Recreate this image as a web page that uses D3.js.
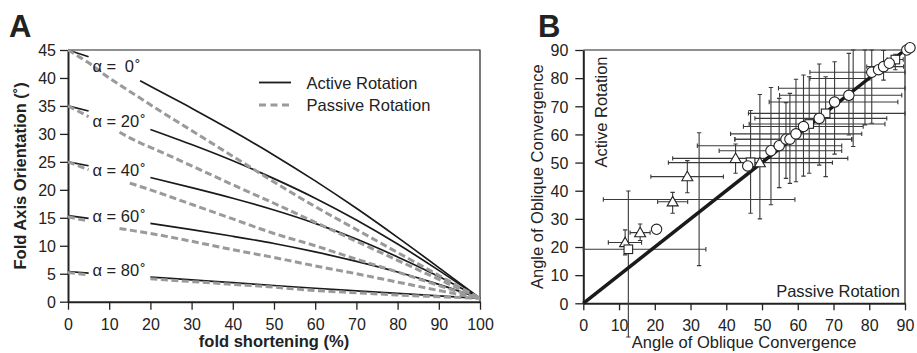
<!DOCTYPE html>
<html>
<head>
<meta charset="utf-8">
<script src="https://cdn.jsdelivr.net/npm/d3@7"></script>
<style>
    body { margin: 0; background: #fff; }
    svg text { font-family: "Liberation Sans", Arial, sans-serif; fill: #222; }
</style>
</head>
<body>
<div id="chart"></div>
<script>

// ---------- panel A data (fold axis orientation vs. fold shortening) ----------
// null = line hidden behind the alpha label
let shortening = [0, 5, 10, 12.5, 15, 17.5, 20, 30, 40, 50, 60, 70, 80, 90, 100];
let alphas = [0, 20, 40, 60, 80];

let active0  = [45.0, 43.8, null, null, null, 39.5, 38.5, 34.6, 30.5, 26.2, 21.6, 16.7, 11.5, 6.1, 0.6];
let active20 = [35.0, 34.1, null, null, null, null, 30.8, 28.1, 25.2, 22.0, 18.5, 14.6, 10.3, 5.6, 0.6];
let active40 = [25.0, 24.3, null, null, null, null, 22.2, 20.4, 18.5, 16.4, 14.0, 11.2, 8.0, 4.5, 0.6];
let active60 = [15.4, 14.9, null, null, null, null, 14.0, 12.9, 11.7, 10.4, 8.9, 7.2, 5.3, 3.1, 0.6];
let active80 = [5.4, 5.1, null, null, null, null, 4.4, 3.9, 3.4, 2.9, 2.4, 1.95, 1.5, 1.05, 0.6];

let passive0  = [45.0, 42.7, 40.0, 38.8, 37.6, 36.4, 35.2, 30.6, 26.0, 21.4, 17.0, 12.9, 8.8, 4.7, 0.6];
let passive20 = [35.0, 33.1, null, 30.3, 29.3, 28.4, 27.6, 24.3, 20.9, 17.6, 14.2, 10.8, 7.4, 4.0, 0.6];
let passive40 = [25.0, 23.6, null, null, 21.2, 20.6, 20.0, 17.4, 14.8, 12.2, 10.0, 7.6, 5.3, 2.9, 0.6];
let passive60 = [15.2, 14.4, null, 13.1, 12.8, 12.5, 12.2, 10.8, 9.3, 7.9, 6.4, 5.0, 3.5, 2.0, 0.6];
let passive80 = [5.2, 4.8, null, null, null, null, 4.1, 3.6, 3.1, 2.6, 2.0, 1.6, 1.2, 0.9, 0.6];

let activeSeries = [active0, active20, active40, active60, active80];
let passiveSeries = [passive0, passive20, passive40, passive60, passive80];

// ---------- panel B data: [x, y, xLow, xHigh, yLow, yHigh] ----------
let triangles = [
    [11.7, 21.6, 7.0, 16.3, 17.2, 26.1],
    [15.9, 25.1, 13.1, 18.7, 22.3, 28.2],
    [25.0, 36.1, 20.8, 29.2, 32.0, 39.4],
    [29.1, 45.0, 18.9, 39.2, 39.3, 50.7],
    [42.6, 51.5, 25.0, 74.0, 46.2, 56.6],
    [49.4, 50.0, 23.8, 69.7, 30.0, 74.2]
];
let squares = [
    [12.6, 19.2, 0.0, 34.3, -12.0, 39.9],
    [46.8, 50.1, null, null, 32.0, 68.5],
    [63.2, 63.7, 46.4, 84.4, 46.2, 80.5],
    [67.8, 67.5, 46.2, 90.0, 45.0, 80.5],
    [87.3, 86.6, 85.0, 89.5, 83.0, 88.5]
];
let circles = [
    [20.5, 26.3, null, null, null, null],
    [46.0, 48.8, null, null, null, null],
    [52.5, 54.2, 38.0, 72.3, 35.0, 76.7],
    [54.8, 56.0, 31.9, 72.3, 41.1, 72.8],
    [56.7, 58.3, 42.4, 75.1, 44.4, 71.3],
    [57.8, 58.3, 42.4, 75.1, 42.6, 74.6],
    [59.5, 60.2, 41.2, 77.9, 43.2, 79.6],
    [61.6, 62.8, 44.8, 78.3, 45.2, 81.1],
    [66.0, 65.7, 48.0, 84.9, 49.1, 85.0],
    [70.3, 71.5, 52.0, 88.0, 53.0, 85.8],
    [74.3, 73.9, 54.9, 89.1, 59.8, 88.8],
    [80.7, 82.1, 63.4, 90.0, 64.0, 90.0],
    [82.6, 83.0, null, null, null, null],
    [84.0, 84.1, 79.3, 89.6, 79.3, 89.8],
    [85.6, 85.3, null, null, null, null],
    [90.5, 90.0, null, null, null, null],
    [91.4, 90.8, null, null, null, null]
];
// error bars whose symbol is not visible
let bareBars = [
    [32.4, 36.9, 5.6, 59.2, 13.4, 60.6],
    [75.5, 76.4, 54.6, 90.0, 55.7, 90.0],
    [78.8, 79.9, 63.4, 80.2, 63.4, 90.0]
];

// ---------- drawing ----------
let svg = d3.select("#chart").append("svg")
    .attr("width", 917)
    .attr("height", 353);

function styleAxis(g) {
    g.attr("font-family", null).attr("font-size", null);
    g.select(".domain").attr("stroke", "#222").attr("stroke-width", 2);
    g.selectAll(".tick line").attr("stroke", "#222").attr("stroke-width", 1.3);
    g.selectAll(".tick text").style("font-size", "16px").attr("fill", "#222");
}

/* ----- Panel A ----- */
let xA = d3.scaleLinear().domain([0, 100]).range([68, 480]);
let yA = d3.scaleLinear().domain([0, 45]).range([301.7, 50]);

svg.append("text").attr("x", 9).attr("y", 37)
    .style("font-size", "31px").style("font-weight", "bold").text("A");

// frame (top / right)
svg.append("path")
    .attr("d", "M" + xA(0) + "," + yA(45) + "H" + xA(100) + "V" + yA(0))
    .attr("fill", "none").attr("stroke", "#222").attr("stroke-width", 1.2);

svg.append("g").attr("transform", "translate(0," + yA(0) + ")")
    .call(d3.axisBottom(xA).tickValues(d3.range(0, 101, 10)).tickSize(8).tickSizeOuter(0).tickPadding(9))
    .call(styleAxis);

svg.append("g").attr("transform", "translate(" + xA(0) + ",0)")
    .call(d3.axisLeft(yA).tickValues(d3.range(0, 46, 5)).tickSize(8).tickSizeOuter(0).tickPadding(4))
    .call(styleAxis)
    .selectAll(".tick text").attr("dy", "0.36em");

let lineA = d3.line()
    .defined(d => d[1] !== null)
    .x(d => xA(d[0]))
    .y(d => yA(d[1]))
    .curve(d3.curveMonotoneX);

activeSeries.forEach(function (vals) {
    svg.append("path")
        .datum(shortening.map((s, i) => [s, vals[i]]))
        .attr("d", lineA)
        .attr("fill", "none")
        .attr("stroke", "#1a1a1a")
        .attr("stroke-width", 1.7);
});

passiveSeries.forEach(function (vals) {
    svg.append("path")
        .datum(shortening.map((s, i) => [s, vals[i]]))
        .attr("d", lineA)
        .attr("fill", "none")
        .attr("stroke", "#9a9a9a")
        .attr("stroke-width", 3)
        .attr("stroke-dasharray", "7,3.5");
});

// alpha labels (vertical placement in orientation units)
let labelOrientation = [42.0, 32.2, 23.4, 15.2, 5.5];
alphas.forEach(function (a, i) {
    let t = svg.append("text")
        .attr("x", 92.5)
        .attr("y", yA(labelOrientation[i]) + 5.5)
        .style("font-size", "16.5px");
    t.append("tspan").text("α = ");
    t.append("tspan").attr("dx", a < 10 ? 4 : 0).text(a);
    t.append("tspan").attr("dx", 1).text("˚");
});

// legend
svg.append("line").attr("x1", 259).attr("x2", 291).attr("y1", 82.5).attr("y2", 82.5)
    .attr("stroke", "#1a1a1a").attr("stroke-width", 1.8);
svg.append("line").attr("x1", 259).attr("x2", 291).attr("y1", 105).attr("y2", 105)
    .attr("stroke", "#9a9a9a").attr("stroke-width", 3).attr("stroke-dasharray", "7,4.5");
svg.append("text").attr("x", 306.5).attr("y", 88.5).style("font-size", "16.5px").text("Active Rotation");
svg.append("text").attr("x", 306.5).attr("y", 110.5).style("font-size", "16.5px").text("Passive Rotation");

// axis titles
svg.append("text")
    .attr("x", xA(50)).attr("y", 347)
    .attr("text-anchor", "middle")
    .style("font-size", "16.5px").style("font-weight", "bold")
    .text("fold shortening (%)");

svg.append("text")
    .attr("transform", "translate(26," + ((yA(0) + yA(45)) / 2) + ") rotate(-90)")
    .attr("text-anchor", "middle")
    .style("font-size", "16.5px").style("font-weight", "bold")
    .text("Fold Axis Orientation (˚)");

/* ----- Panel B ----- */
let xB = d3.scaleLinear().domain([0, 90]).range([583.3, 905]);
let yB = d3.scaleLinear().domain([0, 90]).range([303.3, 50]);

svg.append("text").attr("x", 538).attr("y", 37)
    .style("font-size", "31px").style("font-weight", "bold").text("B");

svg.append("path")
    .attr("d", "M" + xB(0) + "," + yB(90) + "H" + xB(90) + "V" + yB(0))
    .attr("fill", "none").attr("stroke", "#222").attr("stroke-width", 1.2);

svg.append("g").attr("transform", "translate(0," + yB(0) + ")")
    .call(d3.axisBottom(xB).tickValues(d3.range(0, 91, 10)).tickSize(7).tickSizeOuter(0).tickPadding(9))
    .call(styleAxis);

svg.append("g").attr("transform", "translate(" + xB(0) + ",0)")
    .call(d3.axisLeft(yB).tickValues(d3.range(0, 91, 10)).tickSize(8).tickSizeOuter(0).tickPadding(7))
    .call(styleAxis)
    .selectAll(".tick text").attr("dy", "0.36em");

// error bars
let allBars = triangles.concat(squares, circles, bareBars).filter(d => d[2] !== null || d[4] !== null);
let cap = 2.2;
let bars = svg.append("g").attr("stroke", "#3a3a3a").attr("stroke-width", 1.1).attr("fill", "none");

allBars.forEach(function (d) {
    if (d[2] !== null) {
        let y = yB(d[1]);
        bars.append("path")
            .attr("d", "M" + xB(d[2]) + "," + y + "H" + xB(d[3]) +
                "M" + xB(d[2]) + "," + (y - cap) + "V" + (y + cap) +
                "M" + xB(d[3]) + "," + (y - cap) + "V" + (y + cap));
    }
    if (d[4] !== null) {
        let x = xB(d[0]);
        bars.append("path")
            .attr("d", "M" + x + "," + yB(d[4]) + "V" + yB(d[5]) +
                "M" + (x - cap) + "," + yB(d[4]) + "H" + (x + cap) +
                "M" + (x - cap) + "," + yB(d[5]) + "H" + (x + cap));
    }
});

// 1:1 line
svg.append("line")
    .attr("x1", xB(0)).attr("y1", yB(0))
    .attr("x2", xB(90)).attr("y2", yB(90))
    .attr("stroke", "#1a1a1a").attr("stroke-width", 3.5);

// symbols
let symGroup = svg.append("g").attr("fill", "#fff").attr("stroke", "#222").attr("stroke-width", 1.1);

symGroup.selectAll(".tri").data(triangles).enter().append("path")
    .attr("class", "tri")
    .attr("d", d3.symbol().type(d3.symbolTriangle).size(52))
    .attr("transform", d => "translate(" + xB(d[0]) + "," + (yB(d[1]) + 1) + ")");

symGroup.selectAll(".sq").data(squares).enter().append("rect")
    .attr("class", "sq")
    .attr("x", d => xB(d[0]) - 4.3)
    .attr("y", d => yB(d[1]) - 4.3)
    .attr("width", 8.6).attr("height", 8.6);

symGroup.selectAll(".circ").data(circles).enter().append("circle")
    .attr("class", "circ")
    .attr("cx", d => xB(d[0]))
    .attr("cy", d => yB(d[1]))
    .attr("r", 5.2);

// region labels
svg.append("text")
    .attr("transform", "translate(607," + 112 + ") rotate(-90)")
    .attr("text-anchor", "middle")
    .style("font-size", "16.5px")
    .text("Active Rotation");

svg.append("text")
    .attr("x", 900).attr("y", 297)
    .attr("text-anchor", "end")
    .style("font-size", "16.5px")
    .text("Passive Rotation");

// axis titles
svg.append("text")
    .attr("x", xB(45)).attr("y", 348)
    .attr("text-anchor", "middle")
    .style("font-size", "16.5px")
    .text("Angle of Oblique Convergence");

svg.append("text")
    .attr("transform", "translate(543," + ((yB(0) + yB(90)) / 2) + ") rotate(-90)")
    .attr("text-anchor", "middle")
    .style("font-size", "16.5px")
    .text("Angle of Oblique Convergence");

</script>
</body>
</html>
